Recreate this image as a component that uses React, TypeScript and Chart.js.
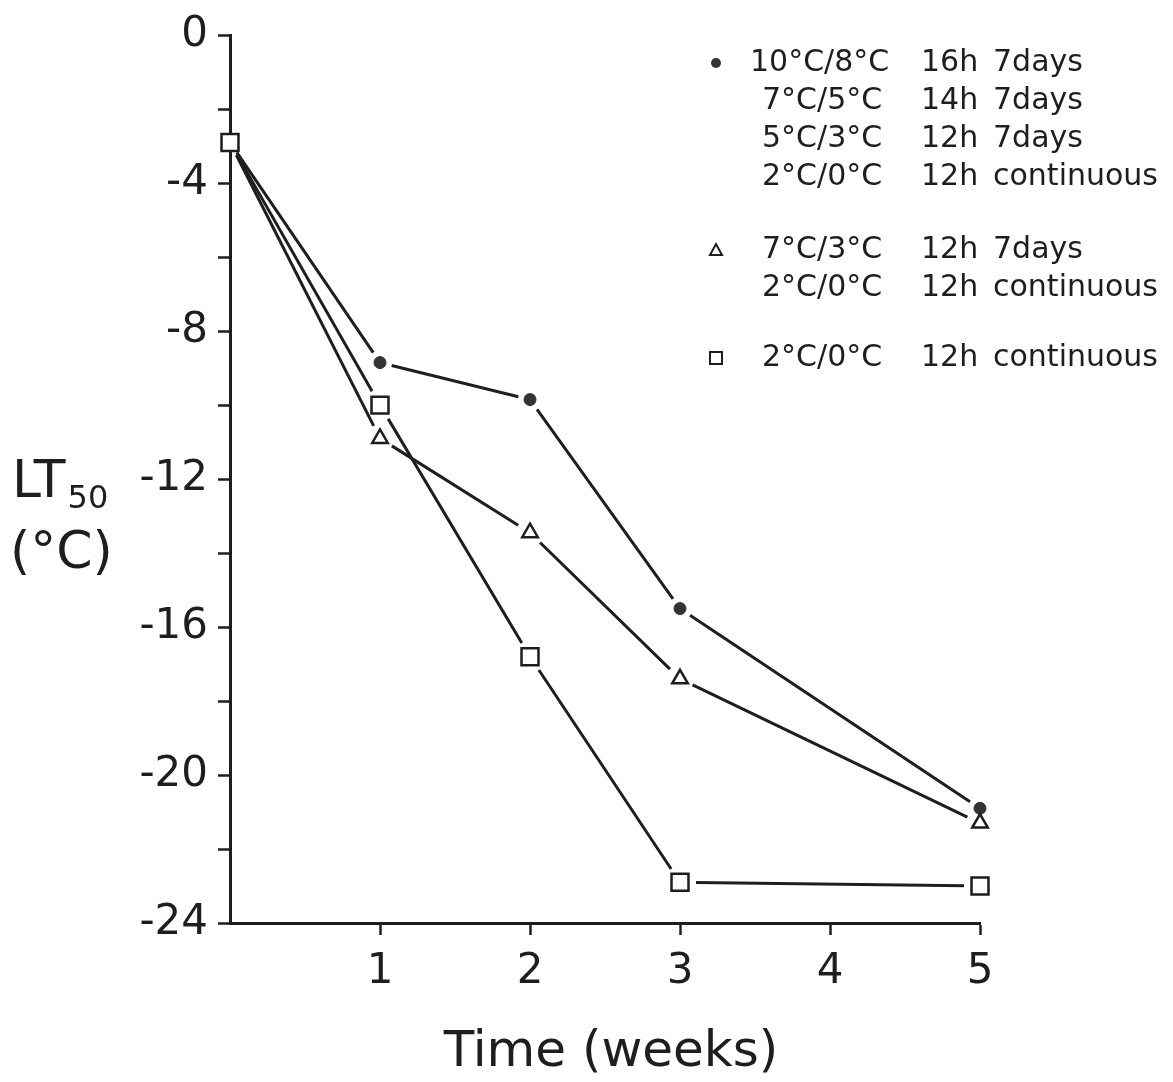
import React, { useEffect, useRef } from "react";
import { Chart, registerables } from "chart.js";

Chart.register(...registerables);

// ---- data ----
const weeks = [0, 1, 2, 3, 5];
const circleSeries = [-2.9, -8.85, -9.85, -15.5, -20.9];
const triangleSeries = [-2.9, -10.9, -13.45, -17.4, -21.3];
const squareSeries = [-2.9, -10.0, -16.8, -22.9, -23.0];

const xTickValues = [1, 2, 3, 4, 5];
const yLabelledTicks = [0, -4, -8, -12, -16, -20, -24];

const legendCircle = [
  ["10°C/8°C", "16h", "7days"],
  ["7°C/5°C", "14h", "7days"],
  ["5°C/3°C", "12h", "7days"],
  ["2°C/0°C", "12h", "continuous"],
];
const legendTriangle = [
  ["7°C/3°C", "12h", "7days"],
  ["2°C/0°C", "12h", "continuous"],
];
const legendSquare = [["2°C/0°C", "12h", "continuous"]];

const yTitleMain = "LT";
const yTitleSub = "50";
const yTitleUnit = "(°C)";
const xTitle = "Time (weeks)";

const INK = "#1e1e1e";
const FONT = '"DejaVu Sans"';

const pts = (ys: number[]) => weeks.map((x, i) => ({ x, y: ys[i] }));

function drawMarker(ctx: CanvasRenderingContext2D, kind: string, x: number, y: number) {
  ctx.save();
  ctx.strokeStyle = INK;
  ctx.lineWidth = 2;
  if (kind === "circle") {
    ctx.fillStyle = "#333";
    ctx.beginPath();
    ctx.arc(x, y, 5, 0, Math.PI * 2);
    ctx.fill();
  } else if (kind === "triangle") {
    ctx.beginPath();
    ctx.moveTo(x, y - 6);
    ctx.lineTo(x + 6, y + 5);
    ctx.lineTo(x - 6, y + 5);
    ctx.closePath();
    ctx.stroke();
  } else {
    ctx.beginPath();
    ctx.rect(x - 6, y - 6, 12, 12);
    ctx.stroke();
  }
  ctx.restore();
}

const annotPlugin = {
  id: "annot",
  afterDraw(chart: any) {
    const ctx: CanvasRenderingContext2D = chart.ctx;
    ctx.save();
    ctx.fillStyle = INK;
    ctx.textBaseline = "alphabetic";
    ctx.textAlign = "left";
    // y title
    ctx.font = `52px ${FONT}`;
    ctx.fillText(yTitleMain, 12, 497);
    const w = ctx.measureText(yTitleMain).width;
    ctx.font = `32px ${FONT}`;
    ctx.fillText(yTitleSub, 12 + w + 2, 508);
    ctx.font = `52px ${FONT}`;
    ctx.fillText(yTitleUnit, 10, 568);
    // x title
    ctx.textAlign = "center";
    ctx.font = `50px ${FONT}`;
    ctx.fillText(xTitle, 611, 1066);
    // legend
    ctx.textAlign = "left";
    ctx.textBaseline = "middle";
    ctx.font = `30px ${FONT}`;
    const colX = [762, 921, 993];
    const groups: [string, string[][], number][] = [
      ["circle", legendCircle, 63],
      ["triangle", legendTriangle, 250],
      ["square", legendSquare, 358],
    ];
    const lineH = 38;
    for (const [kind, rows, y0] of groups) {
      drawMarker(ctx, kind, 716, y0);
      rows.forEach((row, i) => {
        const y = y0 + i * lineH;
        row.forEach((s, j) => {
          let x = colX[j];
          if (j === 0 && kind === "circle" && i === 0) x = 750;
          ctx.fillText(s, x, y);
        });
      });
    }
    ctx.restore();
  },
};

// dash pattern per segment leaving a gap of g px at both ends (line stops short of markers)
const gapDash = (g: number) => (c: any) => {
  const L = Math.hypot(c.p1.x - c.p0.x, c.p1.y - c.p0.y);
  const d = Math.max(L - 2 * g, 0);
  return [0, g, d, g + 4000];
};

export default function App() {
  const ref = useRef<HTMLCanvasElement | null>(null);
  useEffect(() => {
    if (!ref.current) return;
    const base = {
      borderColor: INK,
      borderWidth: 3,
      borderCapStyle: "butt",
      fill: false,
      tension: 0,
      clip: false,
      pointBorderColor: INK,
      pointBorderWidth: 2.5,
    };
    const chart = new Chart(ref.current, {
      type: "line",
      data: {
        datasets: [
          {
            ...base,
            data: pts(squareSeries),
            pointStyle: "rect",
            pointRadius: 12,
            pointBackgroundColor: "#fff",
            segment: { borderDash: gapDash(16) },
          },
          {
            ...base,
            data: pts(triangleSeries),
            pointStyle: "triangle",
            pointRadius: 9,
            pointBackgroundColor: "#fff",
            segment: { borderDash: gapDash(14) },
          },
          {
            ...base,
            data: pts(circleSeries),
            pointStyle: "circle",
            pointRadius: 6,
            pointBackgroundColor: "#333",
            pointBorderColor: "#333",
            pointBorderWidth: 1,
            segment: { borderDash: gapDash(12) },
          },
        ],
      },
      options: {
        responsive: false,
        animation: false,
        layout: { padding: { top: 30, right: 193, left: 0, bottom: 0 } },
        plugins: { legend: { display: false }, tooltip: { enabled: false } },
        events: [],
        scales: {
          x: {
            type: "linear",
            min: 0,
            max: 5,
            afterBuildTicks: (scale: any) => {
              scale.ticks = [0, ...xTickValues].map((v) => ({ value: v }));
            },
            afterFit: (scale: any) => {
              scale.height = 159;
            },
            ticks: {
              callback: (v: any) => (v === 0 ? "" : String(v)),
              font: { family: FONT, size: 42 },
              color: INK,
              padding: 12,
              maxRotation: 0,
            },
            grid: {
              drawOnChartArea: false,
              drawTicks: true,
              tickLength: 12,
              tickWidth: 2.5,
              tickColor: (c: any) => (c.tick && c.tick.value === 0 ? "rgba(0,0,0,0)" : INK),
            },
            border: { display: true, color: INK, width: 3 },
          },
          y: {
            type: "linear",
            min: -24,
            max: 0,
            afterBuildTicks: (scale: any) => {
              const t: any[] = [];
              for (let v = 0; v >= -24; v -= 2) t.push({ value: v });
              scale.ticks = t;
            },
            afterFit: (scale: any) => {
              scale.width = 230;
            },
            ticks: {
              callback: (v: any) => (yLabelledTicks.includes(v) ? String(v) : ""),
              font: { family: FONT, size: 42 },
              color: INK,
              padding: 10,
            },
            grid: {
              drawOnChartArea: false,
              drawTicks: true,
              tickLength: 12,
              tickWidth: 2.5,
              tickColor: INK,
            },
            border: { display: true, color: INK, width: 3 },
          },
        },
      },
      plugins: [annotPlugin],
    } as any);
    return () => chart.destroy();
  }, []);
  return (
    <div style={{ position: "absolute", left: 0, top: 0, width: 1173, height: 1082, background: "#fff" }}>
      <canvas ref={ref} width={1173} height={1082} style={{ display: "block" }} />
    </div>
  );
}
